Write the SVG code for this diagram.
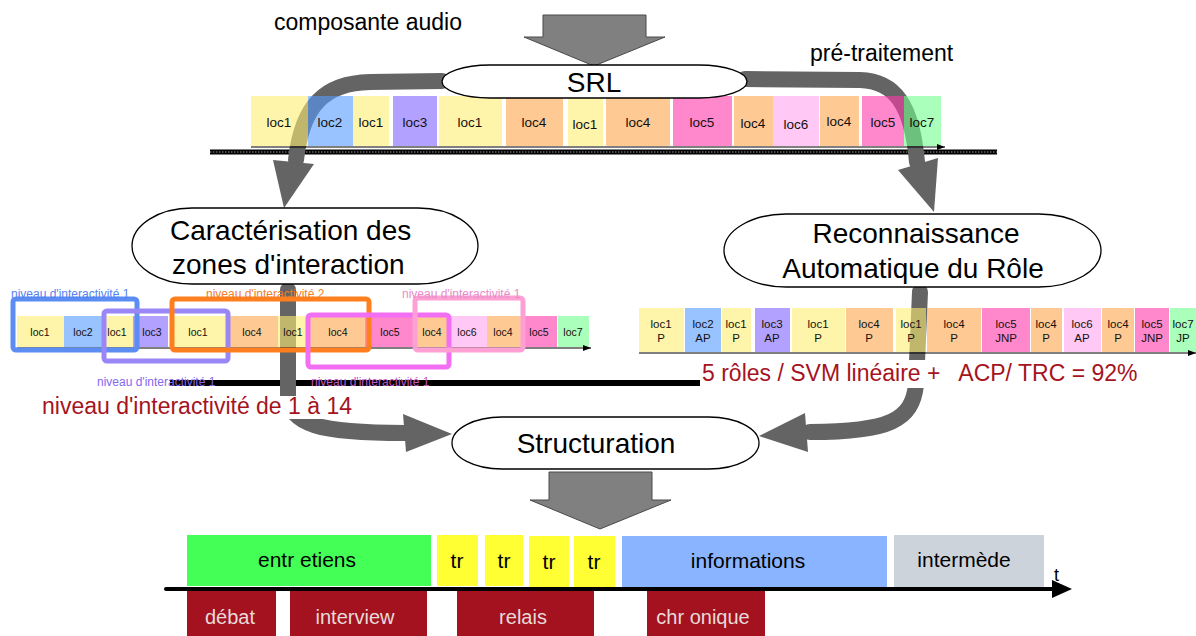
<svg xmlns="http://www.w3.org/2000/svg" width="1196" height="636" viewBox="0 0 1196 636">
<style>
text{font-family:"Liberation Sans",Arial,sans-serif}
.node{fill:#fff;stroke:#000;stroke-width:1.3}
.big{font-size:28px;fill:#000}
.band{fill:none;stroke:#646464;stroke-width:16;stroke-linecap:round}
.head{fill:#646464}
.garrow{fill:#808080;stroke:#4a4a4a;stroke-width:1}
.bars rect{fill-opacity:0.6}
.Y{fill:#FFEE71}.B{fill:#559BFF}.Pu{fill:#8062FF}.O{fill:#FFA54D}.M{fill:#FF39AA}.Pk{fill:#FFA3EE}.G{fill:#71FF8E}
.t1{font-size:13.5px;fill:#111;text-anchor:middle}
.t2{font-size:10.5px;fill:#111;text-anchor:middle}
.t3{font-size:11.5px;fill:#111;text-anchor:middle}
.axis{stroke:#000;stroke-width:1.2;fill:none}
.lbl{font-size:12px}
.box{fill:none;stroke-width:5}
.red{font-size:23px;fill:#A5141E}
.seg{font-size:21px;fill:#000;text-anchor:middle}
.rb{fill:#A3121E}
.rt{font-size:20px;fill:#E8DADA;text-anchor:middle}
.cap{font-size:23px;fill:#000}
.tl{font-size:18px;fill:#000}
</style>
<defs>
<marker id="ah" markerWidth="8" markerHeight="6" refX="8" refY="3" orient="auto" markerUnits="userSpaceOnUse">
<path d="M0,0 L8,3 L0,6 Z" fill="#000"/>
</marker>
</defs>

<!-- background lines -->
<line x1="210" y1="152" x2="997" y2="152" stroke="#000" stroke-width="5"/>
<line x1="210" y1="152" x2="997" y2="152" stroke="#fff" stroke-width="1" stroke-dasharray="1.5 1.5" opacity="0.6"/>
<line x1="170" y1="383" x2="700" y2="383" stroke="#000" stroke-width="6"/>

<!-- connectors -->
<g id="connectors">
<path class="band" d="M442,81 L370,82 C325,83 302,105 296,160"/>
<polygon class="head" points="273,160 314,164 284,208"/>
<path class="band" d="M745,79 L860,80 C895,81 912,105 917,162"/>
<polygon class="head" points="898,170 938,158 934,212"/>
<path class="band" d="M288,290 L288,395 C289,425 320,433 405,433"/>
<polygon class="head" points="403,414 406,452 452,434"/>
<path class="band" d="M920,292 L916,385 C912,420 890,432 810,432"/>
<polygon class="head" points="805,413 808,452 759,436"/>
</g>

<!-- top bar -->
<g id="bar-top" class="bars">
<rect class="Y" x="251" y="96" width="57" height="50"/>
<rect class="B" x="308" y="96" width="45" height="50"/>
<rect class="Y" x="353" y="96" width="36" height="50"/>
<rect class="Pu" x="393" y="96" width="44" height="50"/>
<rect class="Y" x="439" y="96" width="63" height="50"/>
<rect class="O" x="506" y="96" width="57" height="50"/>
<rect class="Y" x="568" y="96" width="35" height="50"/>
<rect class="O" x="606" y="96" width="64" height="50"/>
<rect class="M" x="673" y="96" width="59" height="50"/>
<rect class="O" x="734" y="96" width="39" height="50"/>
<rect class="Pk" x="773" y="96" width="46" height="50"/>
<rect class="O" x="820" y="96" width="39" height="50"/>
<rect class="M" x="862" y="96" width="42" height="50"/>
<rect class="G" x="904" y="96" width="37" height="50"/>
<line class="axis" x1="251" y1="147" x2="945" y2="147" marker-end="url(#ah)"/>
<text class="t1" x="279" y="127">loc1</text>
<text class="t1" x="330" y="127">loc2</text>
<text class="t1" x="371" y="127">loc1</text>
<text class="t1" x="415" y="127">loc3</text>
<text class="t1" x="470" y="127">loc1</text>
<text class="t1" x="534" y="127">loc4</text>
<text class="t1" x="585" y="129">loc1</text>
<text class="t1" x="638" y="127">loc4</text>
<text class="t1" x="702" y="127">loc5</text>
<text class="t1" x="753" y="128">loc4</text>
<text class="t1" x="796" y="129">loc6</text>
<text class="t1" x="839" y="126">loc4</text>
<text class="t1" x="883" y="127">loc5</text>
<text class="t1" x="922" y="127">loc7</text>
</g>

<!-- middle-left bar -->
<g id="bar-interaction" class="bars">
<rect class="Y" x="17" y="316" width="47" height="31"/>
<rect class="B" x="64" y="316" width="39" height="31"/>
<rect class="Y" x="103" y="316" width="30" height="31"/>
<rect class="Pu" x="133" y="316" width="35" height="31"/>
<rect class="Y" x="170" y="316" width="60" height="31"/>
<rect class="O" x="230" y="316" width="48" height="31"/>
<rect class="Y" x="278" y="316" width="32" height="31"/>
<rect class="O" x="310" y="316" width="55" height="31"/>
<rect class="M" x="365" y="316" width="50" height="31"/>
<rect class="O" x="415" y="316" width="33" height="31"/>
<rect class="Pk" x="448" y="316" width="39" height="31"/>
<rect class="O" x="487" y="316" width="35" height="31"/>
<rect class="M" x="522" y="316" width="35" height="31"/>
<rect class="G" x="558" y="316" width="31" height="31"/>
<line class="axis" x1="17" y1="348" x2="591" y2="348" marker-end="url(#ah)"/>
<text class="t2" x="40" y="336">loc1</text>
<text class="t2" x="83" y="336">loc2</text>
<text class="t2" x="117" y="336">loc1</text>
<text class="t2" x="152" y="336">loc3</text>
<text class="t2" x="198" y="336">loc1</text>
<text class="t2" x="252" y="336">loc4</text>
<text class="t2" x="293" y="336">loc1</text>
<text class="t2" x="338" y="336">loc4</text>
<text class="t2" x="390" y="336">loc5</text>
<text class="t2" x="432" y="336">loc4</text>
<text class="t2" x="467" y="336">loc6</text>
<text class="t2" x="503" y="336">loc4</text>
<text class="t2" x="539" y="336">loc5</text>
<text class="t2" x="573" y="336">loc7</text>
</g>

<!-- interactivity boxes -->
<g id="zones">
<rect class="box" x="13" y="299" width="124" height="51" rx="3" stroke="#5B8DF2"/>
<rect class="box" x="104" y="311" width="124" height="50" rx="3" stroke="#9A86F7"/>
<rect class="box" x="172" y="299" width="197" height="51" rx="3" stroke="#FF7F1E"/>
<rect class="box" x="308" y="315" width="141" height="52" rx="3" stroke="#F26EF2"/>
<rect class="box" x="415" y="298" width="108" height="52" rx="3" stroke="#FFA0D5"/>
<text class="lbl" x="11" y="298" fill="#5582F0">niveau d'interactivité 1</text>
<text class="lbl" x="206" y="298" fill="#F07E2A">niveau d'interactivité 2</text>
<text class="lbl" x="402" y="298" fill="#E68CC8">niveau d'interactivité 1</text>
<text class="lbl" x="97" y="386" fill="#8468F0">niveau d'interactivité 1</text>
<text class="lbl" x="311" y="386" fill="#C458C4">niveau d'interactivité 1</text>
</g>

<!-- right bar -->
<g id="bar-roles" class="bars">
<rect class="Y" x="639" y="308" width="45" height="44"/>
<rect class="B" x="685" y="308" width="36" height="44"/>
<rect class="Y" x="722" y="308" width="29" height="44"/>
<rect class="Pu" x="755" y="308" width="35" height="44"/>
<rect class="Y" x="792" y="308" width="53" height="44"/>
<rect class="O" x="846" y="308" width="47" height="44"/>
<rect class="Y" x="896" y="308" width="30" height="44"/>
<rect class="O" x="927" y="308" width="54" height="44"/>
<rect class="M" x="982" y="308" width="48" height="44"/>
<rect class="O" x="1031" y="308" width="31" height="44"/>
<rect class="Pk" x="1064" y="308" width="37" height="44"/>
<rect class="O" x="1102" y="308" width="32" height="44"/>
<rect class="M" x="1135" y="308" width="34" height="44"/>
<rect class="G" x="1170" y="308" width="26" height="44"/>
<line class="axis" x1="639" y1="353" x2="1196" y2="353" marker-end="url(#ah)"/>
<text class="t3" y="328"><tspan x="661">loc1</tspan><tspan x="661" dy="14">P</tspan></text>
<text class="t3" y="328"><tspan x="703">loc2</tspan><tspan x="703" dy="14">AP</tspan></text>
<text class="t3" y="328"><tspan x="736">loc1</tspan><tspan x="736" dy="14">P</tspan></text>
<text class="t3" y="328"><tspan x="772">loc3</tspan><tspan x="772" dy="14">AP</tspan></text>
<text class="t3" y="328"><tspan x="818">loc1</tspan><tspan x="818" dy="14">P</tspan></text>
<text class="t3" y="328"><tspan x="869">loc4</tspan><tspan x="869" dy="14">P</tspan></text>
<text class="t3" y="328"><tspan x="911">loc1</tspan><tspan x="911" dy="14">P</tspan></text>
<text class="t3" y="328"><tspan x="954">loc4</tspan><tspan x="954" dy="14">P</tspan></text>
<text class="t3" y="328"><tspan x="1006">loc5</tspan><tspan x="1006" dy="14">JNP</tspan></text>
<text class="t3" y="328"><tspan x="1046">loc4</tspan><tspan x="1046" dy="14">P</tspan></text>
<text class="t3" y="328"><tspan x="1082">loc6</tspan><tspan x="1082" dy="14">AP</tspan></text>
<text class="t3" y="328"><tspan x="1118">loc4</tspan><tspan x="1118" dy="14">P</tspan></text>
<text class="t3" y="328"><tspan x="1152">loc5</tspan><tspan x="1152" dy="14">JNP</tspan></text>
<text class="t3" y="328"><tspan x="1183">loc7</tspan><tspan x="1183" dy="14">JP</tspan></text>
</g>

<!-- red annotations -->
<g id="annotations">
<rect x="40" y="396" width="316" height="23" fill="#fff"/>
<text class="red" x="42" y="414">niveau d'interactivité de 1 à 14</text>
<rect x="701" y="360" width="440" height="28" fill="#fff"/>
<text class="red" x="702" y="381" xml:space="preserve">5 rôles / SVM linéaire +   ACP/ TRC = 92%</text>
</g>

<!-- captions -->
<text class="cap" x="274" y="30">composante audio</text>
<text class="cap" x="810" y="61">pré-traitement</text>

<!-- top input arrow -->
<g id="input-arrow">
<polygon class="garrow" points="543,15 646,15 646,37 665,37 594,66 524,37 543,37"/>
</g>

<g id="srl">
<rect class="node" x="442" y="65" width="305" height="33" rx="48" ry="16.5"/>
<text class="big" x="594" y="92" text-anchor="middle">SRL</text>
</g>

<g id="caracterisation">
<rect class="node" x="132" y="208" width="346" height="76" rx="60" ry="38"/>
<text class="big" x="170" y="240">Caractérisation des</text>
<text class="big" x="172" y="274">zones d'interaction</text>
</g>

<g id="reconnaissance">
<rect class="node" x="724" y="214" width="377" height="73" rx="62" ry="36.5"/>
<text class="big" x="916" y="243" text-anchor="middle">Reconnaissance</text>
<text class="big" x="913" y="278" text-anchor="middle">Automatique du Rôle</text>
</g>

<g id="structuration">
<rect class="node" x="452" y="417" width="307" height="52" rx="50" ry="26"/>
<text class="big" x="596" y="453" text-anchor="middle">Structuration</text>
</g>

<g id="output-arrow">
<polygon class="garrow" points="549,472 652,472 652,500 671,500 600,529 530,500 549,500"/>
</g>

<!-- bottom timeline -->
<g id="timeline">
<rect x="187" y="535" width="244" height="51" fill="#44FF55"/>
<text class="seg" x="307" y="567">entr etiens</text>
<rect x="437" y="535" width="41" height="51" fill="#FFFF33"/>
<text class="seg" x="457" y="568">tr</text>
<rect x="485" y="535" width="38" height="51" fill="#FFFF33"/>
<text class="seg" x="504" y="568">tr</text>
<rect x="529" y="536" width="40" height="51" fill="#FFFF33"/>
<text class="seg" x="549" y="569">tr</text>
<rect x="574" y="536" width="41" height="51" fill="#FFFF33"/>
<text class="seg" x="594" y="569">tr</text>
<rect x="622" y="536" width="265" height="51" fill="#8AB4FF"/>
<text class="seg" x="748" y="568">informations</text>
<rect x="894" y="535" width="150" height="52" fill="#CDD3DB"/>
<text class="seg" x="964" y="567">intermède</text>
<rect class="rb" x="187" y="590" width="89" height="46"/>
<text class="rt" x="230" y="624">débat</text>
<rect class="rb" x="290" y="590" width="137" height="46"/>
<text class="rt" x="355" y="624">interview</text>
<rect class="rb" x="457" y="590" width="137" height="46"/>
<text class="rt" x="523" y="624">relais</text>
<rect class="rb" x="647" y="590" width="118" height="46"/>
<text class="rt" x="703" y="624">chr onique</text>
<line x1="166" y1="589" x2="1054" y2="589" stroke="#000" stroke-width="4" stroke-linecap="round"/>
<polygon points="1052,580 1072,589 1052,598" fill="#000"/>
<text class="tl" x="1054" y="581">t</text>
</g>
</svg>
